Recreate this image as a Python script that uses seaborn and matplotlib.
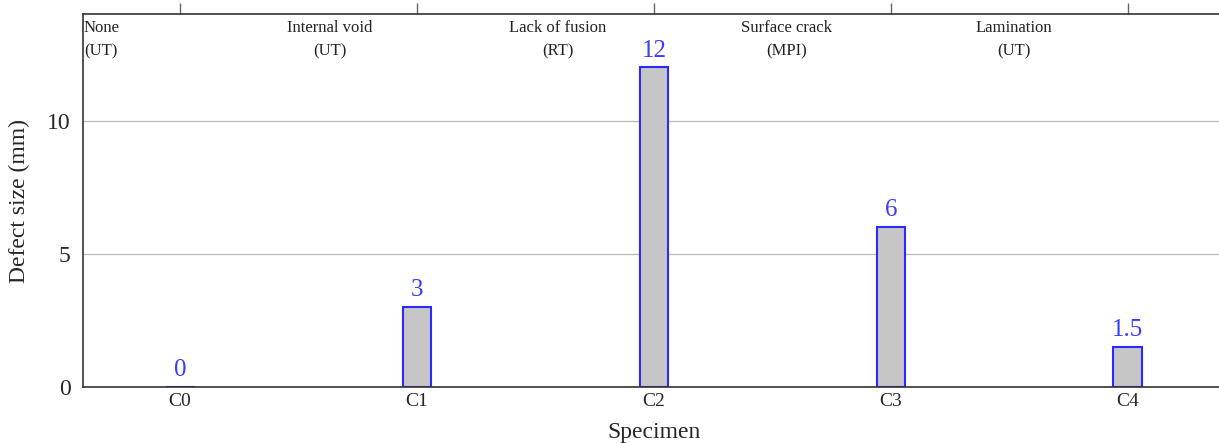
import matplotlib
matplotlib.use("Agg")
import matplotlib.pyplot as plt
import seaborn as sns
import pandas as pd

# ==================================================
# Data
# ==================================================
specimens = ["C0", "C1", "C2", "C3", "C4"]
defect_size = [0, 3, 12, 6, 1.5]
value_labels = ["0", "3", "12", "6", "1.5"]
defect_types = ["None\n(UT)", "Internal void\n(UT)", "Lack of fusion\n(RT)",
                "Surface crack\n(MPI)", "Lamination\n(UT)"]

# where the defect-type notes sit (data x)
note_x = [-0.333, 0.633, 1.595, 2.561, 3.519]

# ==================================================
# Settings
# ==================================================
sns.set_theme(style="white")
plt.rcParams["font.family"] = ["Liberation Serif", "DejaVu Serif"]

df = pd.DataFrame({"Specimen": specimens, "size": defect_size})

fig = plt.figure(figsize=(12.19, 4.43), dpi=100)
ax = fig.add_axes([0.068, 0.126, 0.937, 0.842])

sns.barplot(data=df, x="Specimen", y="size", ax=ax, color="#c6c6c6",
            saturation=1, edgecolor="#2a2aff", linewidth=1.5, width=0.122)

# value labels above bars
for i, (v, lab) in enumerate(zip(defect_size, value_labels)):
    ax.text(i, v + 0.22, lab, ha="center", va="bottom",
            color="#3b3bff", fontsize=18)

# defect type notes at the top
for x, t in zip(note_x, defect_types):
    ax.text(x, 13.78, t, ha="center", va="top", fontsize=12,
            color="#222222", linespacing=1.6)

ax.set_xlim(-0.41, 4.41)
ax.set_ylim(0, 14)
ax.set_yticks([0, 5, 10])
ax.yaxis.grid(True, color="#b8b8b8", linewidth=0.9)
ax.set_axisbelow(True)

for s in ax.spines.values():
    s.set_color("#333333")
    s.set_linewidth(1.2)

ax.tick_params(axis="x", bottom=False, top=True, labelbottom=True,
               labeltop=False, direction="out", length=8, color="#666666",
               width=1, labelsize=14, pad=-4)
ax.tick_params(axis="y", left=False, labelsize=17, pad=3)

ax.set_xlabel("Specimen", fontsize=17, labelpad=9)
ax.set_ylabel("Defect size (mm)", fontsize=17, labelpad=12)

fig.savefig("out.png", dpi=100)
